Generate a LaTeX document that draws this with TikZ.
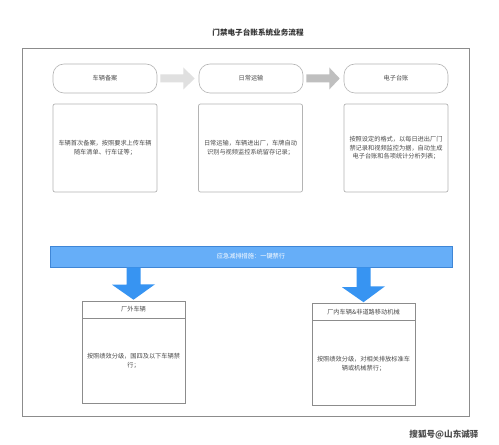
\documentclass[tikz,border=0pt]{standalone}
\usepackage{fontspec}
\newfontfamily\cjk{Noto Sans CJK SC}
\usetikzlibrary{calc}
\definecolor{txt}{HTML}{4A4A4A}
\definecolor{frame}{HTML}{8C8C8C}
\definecolor{boxline}{HTML}{B4B4B4}
\definecolor{barfill}{HTML}{66AEF8}
\definecolor{barline}{HTML}{3F86D6}
\definecolor{bluearrow}{HTML}{3794F2}
\tikzset{
  x=1bp, y=-1bp,
  every node/.style={font=\cjk\fontsize{6.2bp}{8.6bp}\selectfont, text=txt, align=center},
  pill/.style={draw=boxline, line width=0.6bp, rounded corners=11bp, minimum width=104bp, minimum height=29bp, inner sep=0pt},
  descbox/.style={draw=boxline, line width=0.7bp, rounded corners=2bp, minimum width=104bp, minimum height=88bp, text width=98bp, inner sep=0pt},
  lowbox/.style={draw=frame, line width=0.6bp, minimum width=103bp, minimum height=102bp, inner sep=0pt},
  lowhead/.style={draw=frame, line width=0.6bp, minimum width=103bp, minimum height=17bp, inner sep=0pt},
  lowtext/.style={text width=98bp, inner sep=0pt},
}
\begin{document}
\begin{tikzpicture}
\useasboundingbox (0,0) rectangle (499,445);
\fill[white] (0,0) rectangle (499,445);
% title
\node[font=\cjk\bfseries\fontsize{7.6bp}{9bp}\selectfont, text=black!80] (title) at (258,33) {门禁电子台账系统业务流程};
% outer frame
\draw[frame, line width=0.9bp] (22.5,48.5) rectangle (469,416);
% pills
\node[pill] (p1) at (105,78.5) {车辆备案};
\node[pill] (p2) at (251,78.5) {日常运输};
\node[pill] (p3) at (396,78.5) {电子台账};
% gray arrows
\fill[black!12] ($(p1.east)+(3,-4)$) -- ($(p1.east)+(26,-4)$) -- ($(p1.east)+(26,-11)$) -- ($(p2.west)+(-4,0)$) -- ($(p1.east)+(26,11)$) -- ($(p1.east)+(26,4)$) -- ($(p1.east)+(3,4)$) -- cycle;
\fill[black!25] ($(p2.east)+(3,-4)$) -- ($(p2.east)+(26,-4)$) -- ($(p2.east)+(26,-11)$) -- ($(p3.west)+(-4,0)$) -- ($(p2.east)+(26,11)$) -- ($(p2.east)+(26,4)$) -- ($(p2.east)+(3,4)$) -- cycle;
% description boxes
\node[descbox] (d1) at (105,148) {车辆首次备案，按照要求上传车辆\\随车清单、行车证等；};
\node[descbox] (d2) at (250.5,148) {日常运输，车辆进出厂，车牌自动\\识别与视频监控系统留存记录；};
\node[descbox] (d3) at (396,148) {按照设定的格式，以每日进出厂门\\禁记录和视频监控为据，自动生成\\电子台账和各项统计分析列表；};
% blue bar
\node[draw=barline, fill=barfill, line width=0.6bp, minimum width=402bp, minimum height=21bp, inner sep=0pt, text=white] (bar) at (251,256.5) {\color{white}应急减排措施：一键禁行};
% lower boxes
\node[lowbox] (l1) at (133.5,352) {};
\node[lowhead, anchor=north] (l1h) at (l1.north) {厂外车辆};
\node[lowtext] (l1t) at (133.5,361) {按照绩效分级，国四及以下车辆禁\\行；};
\node[lowbox] (l2) at (363.5,354.5) {};
\node[lowhead, anchor=north] (l2h) at (l2.north) {厂内车辆\&非道路移动机械};
\node[lowtext] (l2t) at (363.5,364) {按照绩效分级，对相关排放标准车\\辆或机械禁行；};
% blue arrows
\fill[bluearrow] ($(bar.south)+(-117.5,0)$) ++(-7,0) -- ++(14,0) -- ++(0,17) -- ++(14.5,0) -- ($(l1.north)+(0,-1)$) -- ($(l1.north)+(-21.5,-16)$) -- ++(14.5,0) -- cycle;
\fill[bluearrow] ($(bar.south)+(112.5,0)$) ++(-7,0) -- ++(14,0) -- ++(0,19) -- ++(14.5,0) -- ($(l2.north)+(0,-1)$) -- ($(l2.north)+(-21.5,-16)$) -- ++(14.5,0) -- cycle;
% watermark
\node[font=\cjk\bfseries\fontsize{8.6bp}{10bp}\selectfont, text=black!70] (wm) at (444,435) {搜狐号@山东诚驿};
\end{tikzpicture}
\end{document}
